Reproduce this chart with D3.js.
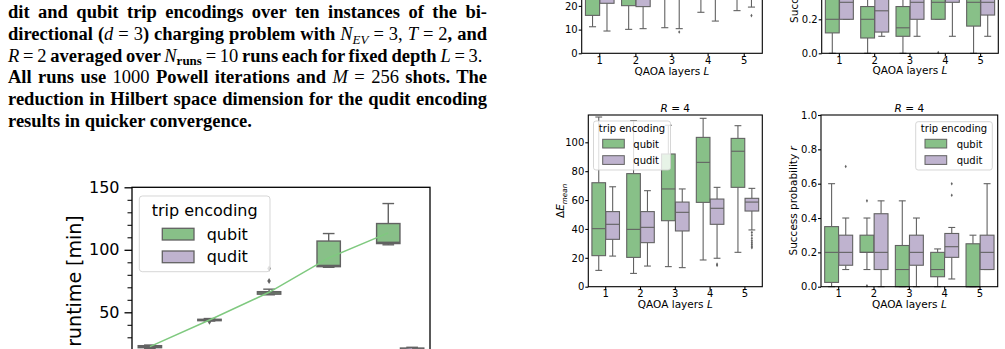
<!DOCTYPE html>
<html>
<head>
<meta charset="utf-8">
<script src="https://cdn.jsdelivr.net/npm/d3@7"></script>
<style>
  body { margin: 0; background: #fff; }
  svg { display: block; }
</style>
</head>
<body>
<svg id="page" width="1005" height="349"></svg>
<script>
// ---- data ----------------------------------------------------------------
const layers = ["1", "2", "3", "4", "5"];
const encodings = ["qubit", "qudit"];

// box stats per layer: [lower whisker, Q1, median, Q3, upper whisker]
const runtimeQubit = [[21, 21.7, 22.5, 23.3, 23.8], [43, 43.3, 44, 44.4, 45], [64, 64.5, 65.5, 66.5, 68.5], [86, 86.5, 87.5, 107, 113], [104, 105, 106, 121, 137]];
const runtimeQudit = [[3, 3.5, 4, 4.6, 5.2], [6, 6.5, 7, 7.6, 8.3], [9, 9.6, 10.2, 11, 12], [13, 14, 14.6, 15.6, 17], [19, 20, 20.6, 21.4, 22]];
const runtimeQubitFliers = [[], [42.5], [75, 85], [], []];
const runtimeQuditFliers = [[], [], [], [], []];
const runtimeQubitMean = [22.5, 43.8, 66, 93.5, 113.5];
const runtimeQuditMean = [4.1, 7.1, 10.3, 14.8, 20.7];
const runtimeTicks = [50, 100, 150];          // 0 lies below the page edge

const energyTopQubit = [[11.2, 16, 24, 32, 46], [10.1, 20.1, 27, 34, 55], [10.8, 24, 30, 38, 52], [17.3, 25, 31, 38, 50], [18, 26, 32, 40, 52]];
const energyTopQudit = [[9.4, 21.1, 27, 33, 50], [10.4, 19.7, 26, 33, 48], [10.4, 23, 29, 35, 47], [13.6, 24, 30, 36, 48], [19.5, 23, 28, 32, 40]];
const energyTopQubitFliers = [[], [], [], [], []];
const energyTopQuditFliers = [[], [], [9], [], [15.9]];
const energyTopTicks = [0, 10, 20];           // higher ticks are above the page edge

const successTopQubit = [[0, 0.12, 0.2, 0.4, 0.7], [0, 0.09, 0.2, 0.275, 0.5], [0, 0.1, 0.15, 0.275, 0.5], [0.2, 0.2, 0.3, 0.4, 0.6], [0, 0.16, 0.3, 0.4, 0.6]];
const successTopQudit = [[0.2, 0.2, 0.3, 0.4, 0.6], [0.1, 0.125, 0.25, 0.4, 0.6], [0.1, 0.2, 0.3, 0.4, 0.6], [0.1, 0.3, 0.35, 0.45, 0.6], [0.1, 0.225, 0.3, 0.4, 0.6]];
const successTopQubitFliers = [[], [], [], [0.005], []];
const successTopQuditFliers = [[], [], [], [], []];
const successTopTicks = [0, 0.2];

const energyR4Qubit = [[11.3, 21.5, 40.2, 72, 117.5], [9.2, 20.3, 39.7, 78.3, 115], [13.9, 45.7, 67.7, 91.9, 111.8], [18.5, 58.4, 86.1, 103.4, 116.6], [23.8, 68.8, 93.8, 102.7, 111.5]];
const energyR4Qudit = [[21.2, 32.8, 43.2, 52, 69.2], [14.3, 30.5, 41.1, 52, 66.5], [13.2, 38.6, 51.5, 58.6, 67.7], [19.7, 43.2, 54.3, 60.7, 68.8], [39.3, 52.4, 58.6, 61.2, 68.1]];
const energyR4QubitFliers = [[], [], [], [], []];
const energyR4QuditFliers = [[], [], [], [15.6, 14.8], [37.6, 35.6, 33.6, 31.8, 30.4, 29.2, 28, 27]];
const energyR4Ticks = [0, 20, 40, 60, 80, 100];

const successR4Qubit = [[0, 0.025, 0.2, 0.35, 0.6], [0.1, 0.2, 0.2, 0.3, 0.4], [0, 0, 0.1, 0.24, 0.5], [0, 0.058, 0.1, 0.2, 0.22], [0, 0, 0, 0.25, 0.3]];
const successR4Qudit = [[0.1, 0.125, 0.2, 0.3, 0.4], [0, 0.1, 0.2, 0.425, 0.5], [0, 0.125, 0.2, 0.3, 0.4], [0.045, 0.171, 0.233, 0.31, 0.345], [0.1, 0.1, 0.2, 0.3, 0.6]];
const successR4QubitFliers = [[], [0.5, 0.005], [], [], []];
const successR4QuditFliers = [[0.7], [], [], [0.6, 0.533], []];
const successTicks = [0, 0.2, 0.4, 0.6, 0.8, 1.0];

// ---- styling -------------------------------------------------------------
const GREEN = "#88c088", PURPLE = "#bfb3cf", GRAY = "#626262";
const FONT = "DejaVu Sans, sans-serif";
const svg = d3.select("#page");

// ---- caption -------------------------------------------------------------
// b = bold, r = regular, i = italic, s = subscript (italic), sb = subscript bold
const caption = [
  { y: 18.3, right: 487, parts: [["dit and qubit trip encodings over ten instances of the bi-", "b"]] },
  { y: 40, right: 487, parts: [["directional (", "b"], ["d", "i"], [" = 3", "r"], [") charging problem with ", "b"], ["N", "i"], ["EV", "s"], [" = 3, ", "r"], ["T", "i"], [" = 2", "r"], [", and", "b"]] },
  { y: 61.7, right: 482.5, parts: [["R", "i"], [" = 2", "r"], [" averaged over ", "b"], ["N", "i"], ["runs", "sb"], [" = 10", "r"], [" runs each for fixed depth ", "b"], ["L", "i"], [" = 3.", "r"]] },
  { y: 83.3, right: 487, parts: [["All runs use ", "b"], ["1000", "r"], [" Powell iterations and ", "b"], ["M", "i"], [" = 256", "r"], [" shots. The", "b"]] },
  { y: 105, right: 487, parts: [["reduction in Hilbert space dimension for the qudit encoding", "b"]] },
  { y: 126.7, right: null, parts: [["results in quicker convergence.", "b"]] }
];

caption.forEach(line => {
  const t = svg.append("text")
    .attr("x", 8).attr("y", line.y)
    .attr("font-family", "Liberation Serif, serif")
    .attr("font-size", 18.5)
    .style("white-space", "pre");
  let shifted = false;
  line.parts.forEach(([txt, kind]) => {
    const ts = t.append("tspan").text(txt);
    ts.attr("font-weight", kind === "b" || kind === "sb" ? "bold" : "normal");
    ts.attr("font-style", kind === "i" || kind === "s" ? "italic" : "normal");
    if (kind === "s" || kind === "sb") {
      ts.attr("font-size", 13).attr("dy", 3.5);
      shifted = true;
    } else if (shifted) {
      ts.attr("dy", -3.5);
      shifted = false;
    }
  });
  if (line.right) {
    const natural = t.node().getComputedTextLength();
    const full = line.parts.map(p => p[0]).join("");
    const spaces = (full.match(/ /g) || []).length;
    t.attr("word-spacing", (line.right - 8 - natural) / spaces);
  }
});

// ---- box panels ----------------------------------------------------------
function diamond(cx, cy, s) {
  return `M${cx},${cy - s} L${cx + s * 0.6},${cy} L${cx},${cy + s} L${cx - s * 0.6},${cy} Z`;
}

function drawPanel(p) {
  const g = svg.append("g");
  const x = d3.scaleBand().domain(layers).range([p.left, p.right]);
  const y = d3.scaleLinear().domain([0, p.yMax]).range([p.bottom, p.top]);
  const bw = x.bandwidth(), w = bw * 0.4 * 0.98;
  const cx = (i, side) => x(layers[i]) + bw / 2 + side * bw * 0.2;

  const series = [
    { stats: p.qubit, fliers: p.qubitFliers, fill: GREEN, side: -1 },
    { stats: p.qudit, fliers: p.quditFliers, fill: PURPLE, side: 1 }
  ];
  series.forEach(s => {
    s.stats.forEach((st, i) => {
      const c = cx(i, s.side);
      const [lo, q1, med, q3, hi] = st;
      const b = g.append("g").attr("stroke", GRAY).attr("stroke-width", p.lw);
      b.append("line").attr("x1", c).attr("x2", c).attr("y1", y(q1)).attr("y2", y(lo));
      b.append("line").attr("x1", c).attr("x2", c).attr("y1", y(q3)).attr("y2", y(hi));
      b.append("line").attr("x1", c - w / 4).attr("x2", c + w / 4).attr("y1", y(lo)).attr("y2", y(lo));
      b.append("line").attr("x1", c - w / 4).attr("x2", c + w / 4).attr("y1", y(hi)).attr("y2", y(hi));
      b.append("rect").attr("x", c - w / 2).attr("width", w)
        .attr("y", y(q3)).attr("height", Math.max(0.5, y(q1) - y(q3)))
        .attr("fill", s.fill);
      b.append("line").attr("x1", c - w / 2).attr("x2", c + w / 2).attr("y1", y(med)).attr("y2", y(med));
      s.fliers[i].forEach(v => {
        g.append("path").attr("d", diamond(c, y(v), p.flier)).attr("fill", GRAY);
      });
    });
  });

  if (p.means) {
    p.means.forEach((m, k) => {
      const side = k === 0 ? -1 : 1;
      const line = d3.line().x((d, i) => cx(i, side)).y(d => y(d));
      g.append("path").attr("d", line(m)).attr("fill", "none")
        .attr("stroke", k === 0 ? "#7fc97f" : "#beaed4").attr("stroke-width", 1.5);
    });
  }

  // axes
  const ya = g.append("g").attr("transform", `translate(${p.left},0)`)
    .call(d3.axisLeft(y).tickValues(p.yTicks).tickSize(p.tick).tickPadding(p.yPad).tickFormat(p.yFmt));
  const xa = g.append("g").attr("transform", `translate(0,${p.bottom})`)
    .call(d3.axisBottom(x).tickSize(p.tick).tickPadding(p.xPad));
  if (p.hideX) xa.selectAll("text").remove();
  [ya, xa].forEach(a => {
    a.select(".domain").remove();
    a.attr("font-size", p.fs).attr("font-family", FONT);
    a.selectAll("line").attr("stroke", "#000").attr("stroke-width", p.spine);
    a.selectAll("text").attr("fill", "#000");
  });
  if (p.minor) {
    const ma = g.append("g").attr("transform", `translate(${p.left},0)`)
      .call(d3.axisLeft(y).tickValues(p.minor).tickSize(p.tick * 0.6).tickFormat(""));
    ma.select(".domain").remove();
    ma.selectAll("line").attr("stroke", "#000").attr("stroke-width", p.spine * 0.8);
  }
  g.append("rect").attr("x", p.left).attr("y", p.top)
    .attr("width", p.right - p.left).attr("height", p.bottom - p.top)
    .attr("fill", "none").attr("stroke", "#000").attr("stroke-width", p.spine);

  const midX = (p.left + p.right) / 2, midY = p.ylabelY || (p.top + p.bottom) / 2;
  if (p.title) {
    const t = g.append("text").attr("x", midX).attr("y", p.top - 3.5)
      .attr("text-anchor", "middle").attr("font-family", FONT).attr("font-size", p.fs + 0.5);
    t.append("tspan").attr("font-style", "italic").text("R");
    t.append("tspan").text(" = 4");
  }
  if (p.xlabel) {
    const t = g.append("text").attr("x", midX).attr("y", p.bottom + p.xlabelDy)
      .attr("text-anchor", "middle").attr("font-family", FONT).attr("font-size", p.fs + 0.5);
    t.append("tspan").text("QAOA layers ");
    t.append("tspan").attr("font-style", "italic").text("L");
  }
  if (p.ylabel) {
    const yl = g.append("text")
      .attr("transform", `translate(${p.left - p.ylabelDx},${midY}) rotate(-90)`)
      .attr("text-anchor", "middle").attr("font-family", FONT).attr("font-size", p.ylabelFs || p.fs + 0.5);
    if (p.ylabel === "energy") {
      yl.append("tspan").text("Δ");
      yl.append("tspan").attr("font-style", "italic").text("E");
      yl.append("tspan").attr("font-style", "italic").attr("font-size", p.fs * 0.72).attr("dy", 2.5).text("mean");
    } else if (p.ylabel === "success") {
      yl.append("tspan").text("Success probability ");
      yl.append("tspan").attr("font-style", "italic").text("r");
    } else {
      yl.text(p.ylabel);
    }
  }

  if (p.legend) drawLegend(p.legend);
}

function drawLegend(L) {
  const g = svg.append("g").attr("font-family", FONT);
  g.append("rect").attr("x", L.x).attr("y", L.y).attr("width", L.w).attr("height", L.h)
    .attr("rx", L.r).attr("fill", "#fff").attr("fill-opacity", 0.8)
    .attr("stroke", "#cccccc").attr("stroke-opacity", 0.8).attr("stroke-width", 1);
  g.append("text").attr("x", L.x + L.w / 2).attr("y", L.titleY)
    .attr("text-anchor", "middle").attr("font-size", L.fs).text("trip encoding");
  encodings.forEach((name, i) => {
    g.append("rect").attr("x", L.px).attr("y", L.py[i]).attr("width", L.pw).attr("height", L.ph)
      .attr("fill", i === 0 ? GREEN : PURPLE).attr("stroke", GRAY).attr("stroke-width", L.lw);
    g.append("text").attr("x", L.lx).attr("y", L.ly[i]).attr("font-size", L.fs).text(name);
  });
}

// runtime panel (bottom-left of the page, its lower part is off the page)
drawPanel({
  left: 132, right: 430, top: 187.3, bottom: 374.8, yMax: 150,
  yTicks: runtimeTicks, yFmt: d3.format("d"), minor: d3.range(0, 151, 10).filter(v => v % 50),
  qubit: runtimeQubit, qudit: runtimeQudit,
  qubitFliers: runtimeQubitFliers, quditFliers: runtimeQuditFliers,
  means: [runtimeQubitMean, runtimeQuditMean],
  fs: 16, tick: 7.5, yPad: 5, xPad: 4, lw: 1.4, spine: 1.3, flier: 3, hideX: true,
  xlabel: false, ylabel: "runtime [min]", ylabelDx: 51, ylabelFs: 19, ylabelY: 281,
  legend: { x: 139.3, y: 196, w: 130.7, h: 75.7, r: 3, fs: 16, titleY: 216,
            px: 162.3, py: [228.3, 251], pw: 31.7, ph: 11.7, lx: 206.7, ly: [239.5, 262.2], lw: 1.3 }
});

// top row (cropped by the page edge; its titles and left label lie above it)
drawPanel({
  left: 581.7, right: 762.3, top: 53.3 - 60 * 2.37, bottom: 53.3, yMax: 60,
  yTicks: energyTopTicks, yFmt: d3.format("d"),
  qubit: energyTopQubit, qudit: energyTopQudit,
  qubitFliers: energyTopQubitFliers, quditFliers: energyTopQuditFliers,
  fs: 10, tick: 3, yPad: 1, xPad: 0.5, lw: 1.1, spine: 1.1, flier: 1.8,
  xlabel: true, xlabelDy: 21.7, ylabel: null, ylabelDx: 24
});
drawPanel({
  left: 821.7, right: 998.3, top: 53.3 - 170, bottom: 53.3, yMax: 1,
  yTicks: successTopTicks, yFmt: d3.format(".1f"),
  qubit: successTopQubit, qudit: successTopQudit,
  qubitFliers: successTopQubitFliers, quditFliers: successTopQuditFliers,
  fs: 10, tick: 3, yPad: 1, xPad: 0.5, lw: 1.1, spine: 1.1, flier: 1.8,
  xlabel: true, xlabelDy: 21, ylabel: "success", ylabelDx: 24
});

// bottom row, R = 4
drawPanel({
  left: 588.3, right: 762.3, top: 115, bottom: 286.7, yMax: 118.9,
  yTicks: energyR4Ticks, yFmt: d3.format("d"),
  qubit: energyR4Qubit, qudit: energyR4Qudit,
  qubitFliers: energyR4QubitFliers, quditFliers: energyR4QuditFliers,
  fs: 10, tick: 3, yPad: 1, xPad: 0.5, lw: 1.1, spine: 1.1, flier: 1.8,
  title: true, xlabel: true, xlabelDy: 21.6, ylabel: "energy", ylabelDx: 24,
  legend: { x: 593.5, y: 121, w: 77, h: 49, r: 2.5, fs: 10, titleY: 131.7,
            px: 602.7, py: [139.3, 155.7], pw: 21.6, ph: 8.7, lx: 633.3, ly: [147.5, 163.6], lw: 1 }
});
drawPanel({
  left: 821, right: 997.7, top: 115, bottom: 286.7, yMax: 1,
  yTicks: successTicks, yFmt: d3.format(".1f"),
  qubit: successR4Qubit, qudit: successR4Qudit,
  qubitFliers: successR4QubitFliers, quditFliers: successR4QuditFliers,
  fs: 10, tick: 3, yPad: 1, xPad: 0.5, lw: 1.1, spine: 1.1, flier: 1.8,
  title: true, xlabel: true, xlabelDy: 21.6, ylabel: "success", ylabelDx: 24,
  legend: { x: 915.7, y: 121.7, w: 76.6, h: 48.3, r: 2.5, fs: 10, titleY: 131.5,
            px: 925, py: [139.3, 155.7], pw: 21.7, ph: 8.7, lx: 956.7, ly: [147.5, 163.6], lw: 1 }
});
</script>
</body>
</html>
